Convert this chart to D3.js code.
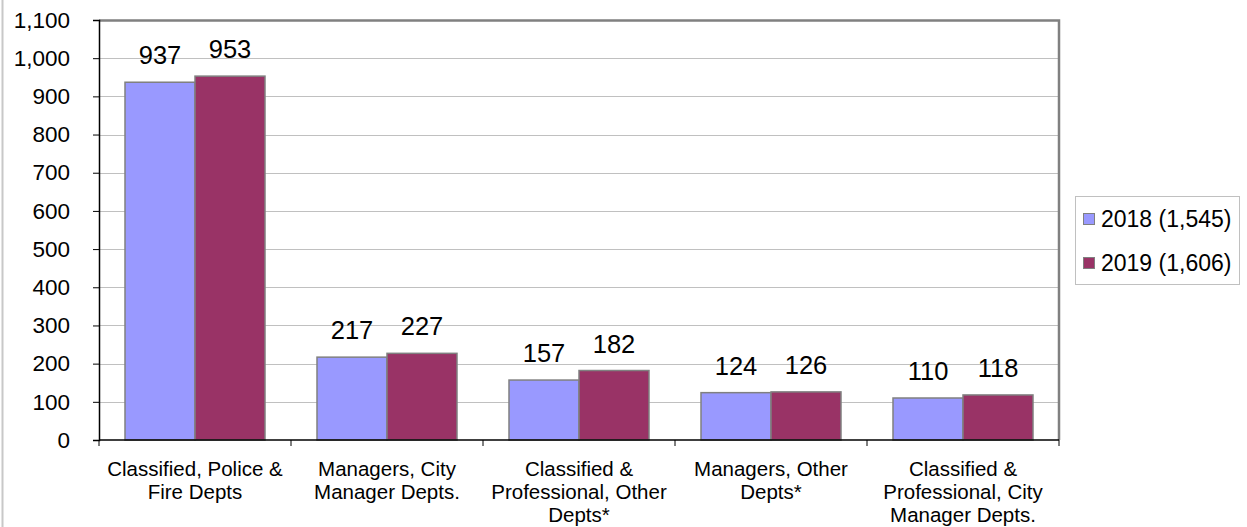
<!DOCTYPE html>
<html><head><meta charset="utf-8">
<script src="https://cdn.jsdelivr.net/npm/d3@7"></script>
<style>body{margin:0;background:#fff}svg{display:block;font-family:"Liberation Sans",Arial,sans-serif}</style>
</head><body><svg id="c" width="1247" height="527"></svg>
<script>
const categories = [
  ["Classified, Police &","Fire Depts"],
  ["Managers, City","Manager Depts."],
  ["Classified &","Professional, Other","Depts*"],
  ["Managers, Other","Depts*"],
  ["Classified &","Professional, City","Manager Depts."]
];
const seriesNames = ["2018 (1,545)","2019 (1,606)"];
const values2018 = [937,217,157,124,110];
const values2019 = [953,227,182,126,118];
const yTicks = [0,100,200,300,400,500,600,700,800,900,1000,1100];
const colors = ["#9999FF","#993366"];

const svg = d3.select("#c");
const L=99,R=1059,T=20,B=440;
const x = d3.scaleBand().domain(d3.range(categories.length)).range([L,R]).paddingInner(0).paddingOuter(0);
const xs = d3.scaleBand().domain([0,1]).range([0,x.bandwidth()]).paddingInner(0).paddingOuter(26/70);
const y = d3.scaleLinear().domain([0,1100]).range([B,T]);

// outer border left
svg.append("line").attr("x1",2.5).attr("x2",2.5).attr("y1",0).attr("y2",527).attr("stroke","#c8c8c8").attr("stroke-width",2);

// gridlines
svg.append("g").selectAll("line").data(yTicks.filter(d=>d>0&&d<1100)).join("line")
  .attr("x1",L).attr("x2",R).attr("y1",d=>Math.round(y(d))+0.5).attr("y2",d=>Math.round(y(d))+0.5)
  .attr("stroke","#c0c0c0").attr("stroke-width",1);

// plot border top & right
svg.append("path").attr("d",`M${L},${T+0.5}H${R}V${B}`).attr("fill","none").attr("stroke","#808080").attr("stroke-width",2.5);

// bars
const data = values2018.map((v,i)=>[v,values2019[i]]);
const g = svg.append("g").selectAll("g").data(data).join("g").attr("transform",(d,i)=>`translate(${x(i)},0)`);
g.selectAll("rect").data(d=>d).join("rect")
  .attr("x",(d,j)=>xs(j)).attr("width",xs.bandwidth())
  .attr("y",d=>y(d)).attr("height",d=>B-y(d))
  .attr("fill",(d,j)=>colors[j]).attr("stroke","#808080").attr("stroke-width",1.5);
g.selectAll("text").data(d=>d).join("text")
  .attr("x",(d,j)=>xs(j)+xs.bandwidth()/2).attr("y",d=>y(d)-18)
  .attr("text-anchor","middle").attr("font-size",25.5).attr("fill","#000").text(d=>d);

// y axis
const ya = svg.append("g").attr("transform",`translate(${L},0)`)
  .call(d3.axisLeft(y).tickValues(yTicks).tickSize(6).tickFormat(d3.format(",")));
ya.select(".domain").attr("stroke","#000").attr("stroke-width",1.5);
ya.selectAll(".tick line").attr("stroke","#000");
ya.selectAll(".tick text").attr("font-size",22.5).attr("font-family","Liberation Sans, Arial, sans-serif").attr("fill","#000").attr("x",-29);

// x axis
svg.append("line").attr("x1",L).attr("x2",R).attr("y1",B).attr("y2",B).attr("stroke","#000").attr("stroke-width",1.5);
svg.append("g").selectAll("line").data(d3.range(categories.length+1)).join("line")
  .attr("x1",i=>L+i*x.bandwidth()).attr("x2",i=>L+i*x.bandwidth()).attr("y1",B).attr("y2",B+6).attr("stroke","#000");
const cl = svg.append("g").selectAll("text").data(categories).join("text")
  .attr("x",(d,i)=>x(i)+x.bandwidth()/2).attr("y",476).attr("text-anchor","middle").attr("font-size",20.5).attr("fill","#000");
cl.selectAll("tspan").data(d=>d).join("tspan").attr("x",function(){return this.parentNode.getAttribute("x");})
  .attr("dy",(d,k)=>k===0?0:23).text(d=>d);

// legend
const lg = svg.append("g");
lg.append("rect").attr("x",1075.5).attr("y",196.5).attr("width",164).attr("height",88).attr("fill","#fff").attr("stroke","#c0c0c0");
seriesNames.forEach((s,i)=>{
  const yy = 219+i*44;
  lg.append("rect").attr("x",1083.5).attr("y",yy-5.5).attr("width",11).attr("height",11).attr("fill",colors[i]).attr("stroke","#808080").attr("stroke-width",1);
  lg.append("text").attr("x",1101).attr("y",yy+8).attr("font-size",23).attr("fill","#000").text(s);
});
</script></body></html>
